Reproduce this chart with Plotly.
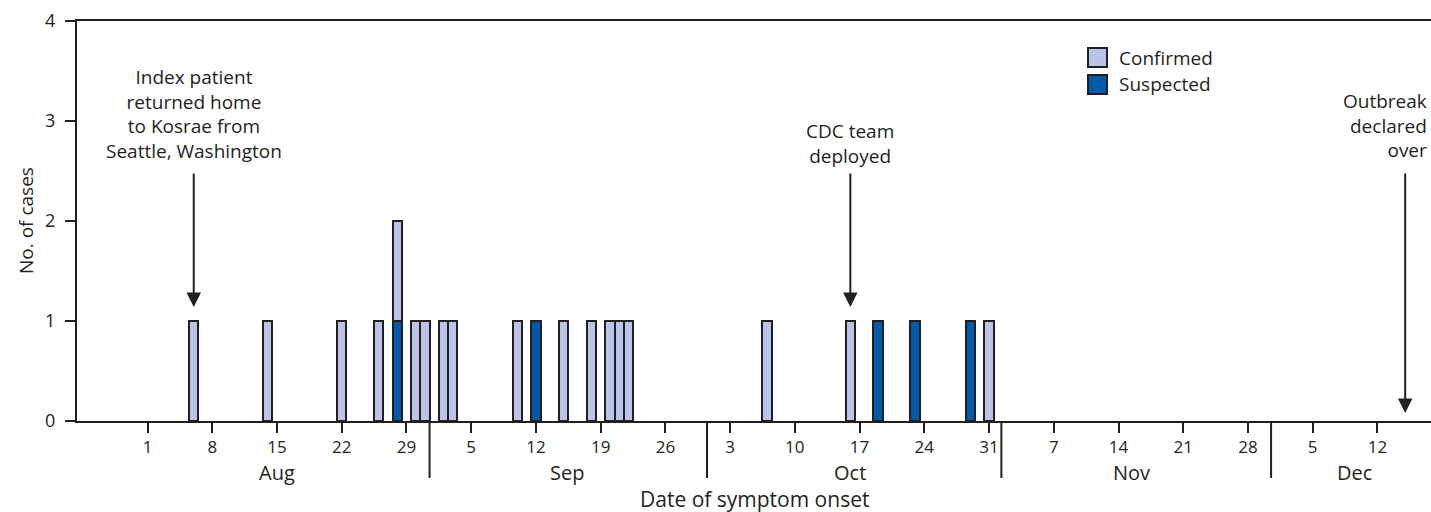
import plotly.graph_objects as go

# ---- data ----
confirmed_dates = ["2017-08-06", "2017-08-14", "2017-08-22", "2017-08-26", "2017-08-28",
                   "2017-08-30", "2017-08-31", "2017-09-02", "2017-09-03", "2017-09-10",
                   "2017-09-15", "2017-09-18", "2017-09-20", "2017-09-21", "2017-09-22",
                   "2017-10-07", "2017-10-16", "2017-10-31"]
confirmed_counts = [1, 1, 1, 1, 1, 1, 1, 1, 1, 1, 1, 1, 1, 1, 1, 1, 1, 1]
suspected_dates = ["2017-08-28", "2017-09-12", "2017-10-19", "2017-10-23", "2017-10-29"]
suspected_counts = [1, 1, 1, 1, 1]

tick_dates = ["2017-08-01", "2017-08-08", "2017-08-15", "2017-08-22", "2017-08-29",
              "2017-09-05", "2017-09-12", "2017-09-19", "2017-09-26", "2017-10-03",
              "2017-10-10", "2017-10-17", "2017-10-24", "2017-10-31", "2017-11-07",
              "2017-11-14", "2017-11-21", "2017-11-28", "2017-12-05", "2017-12-12"]
tick_labels = ["1", "8", "15", "22", "29", "5", "12", "19", "26", "3", "10", "17", "24",
               "31", "7", "14", "21", "28", "5", "12"]
month_labels = ["Aug", "Sep", "Oct", "Nov", "Dec"]
month_label_pos = ["2017-08-15", "2017-09-15 08:00", "2017-10-16", "2017-11-15 10:00", "2017-12-09 12:00"]
month_separators = ["2017-08-31 12:00", "2017-09-30 12:00", "2017-11-01 08:00", "2017-11-30 12:00"]

events = ["Index patient<br>returned home<br>to Kosrae from<br>Seattle, Washington",
          "CDC team<br>deployed",
          "Outbreak<br>declared<br>over"]
event_dates = ["2017-08-06", "2017-10-16", "2017-12-15"]

LIGHT = "#BAC5E6"
DARK = "#005AAA"
INK = "#231F20"
FONT = "Open Sans"
DAY_MS = 86400000

fig = go.Figure()
fig.add_trace(go.Bar(x=suspected_dates, y=suspected_counts, name="Suspected",
                     width=DAY_MS, marker=dict(color=DARK, line=dict(color=INK, width=2)),
                     showlegend=False, hoverinfo="skip"))
fig.add_trace(go.Bar(x=confirmed_dates, y=confirmed_counts, name="Confirmed",
                     width=DAY_MS, marker=dict(color=LIGHT, line=dict(color=INK, width=2)),
                     showlegend=False, hoverinfo="skip"))

W, H = 1431, 512
ML, MR, MT, MB = 77, 0, 21, 91
PW, PH = W - ML - MR, H - MT - MB


def px(x):
    return (x - ML) / PW


def py(y):
    return (H - MB - y) / PH


annotations = []
shapes = []

# event annotations (text)
annotations.append(dict(x=event_dates[0], y=3.075, xref="x", yref="y", text=events[0],
                        showarrow=False, xanchor="center", yanchor="middle",
                        font=dict(size=19, color=INK, family=FONT)))
annotations.append(dict(x=event_dates[1], y=2.78, xref="x", yref="y", text=events[1],
                        showarrow=False, xanchor="center", yanchor="middle",
                        font=dict(size=19, color=INK, family=FONT)))
annotations.append(dict(x=1, y=2.955, xref="paper", yref="y", text=events[2], xshift=-2,
                        showarrow=False, xanchor="right", yanchor="middle", align="right",
                        font=dict(size=19, color=INK, family=FONT)))
# arrows
for d, tip in zip(event_dates, [1.14, 1.14, 0.08]):
    annotations.append(dict(x=d, y=tip, ax=d, ay=2.49, xref="x", yref="y", axref="x", ayref="y",
                            text="", showarrow=True, arrowhead=2, arrowsize=1.45,
                            arrowwidth=2, arrowcolor=INK))

# month labels
for lab, pos in zip(month_labels, month_label_pos):
    annotations.append(dict(x=pos, y=py(472), xref="x", yref="paper", text=lab,
                            showarrow=False, xanchor="center", yanchor="middle",
                            font=dict(size=20, color=INK, family=FONT)))
for s in month_separators:
    shapes.append(dict(type="line", xref="x", yref="paper", x0=s, x1=s, y0=0, y1=py(478),
                       line=dict(color=INK, width=2)))

# axis titles
annotations.append(dict(x=0.5, y=py(499), xref="paper", yref="paper",
                        text="Date of symptom onset", showarrow=False,
                        xanchor="center", yanchor="middle",
                        font=dict(size=21, color=INK, family=FONT)))
annotations.append(dict(x=0, y=0.5, xref="paper", yref="paper", xshift=-51,
                        text="No. of cases", showarrow=False, textangle=-90,
                        xanchor="center", yanchor="middle",
                        font=dict(size=19, color=INK, family=FONT)))

# legend (drawn)
legend_items = [("Confirmed", LIGHT, 48, 67), ("Suspected", DARK, 75, 94)]
for name, col, y0, y1 in legend_items:
    shapes.append(dict(type="rect", xref="paper", yref="paper", x0=px(1088), x1=px(1107),
                       y0=py(y1), y1=py(y0), fillcolor=col, line=dict(color=INK, width=2)))
    annotations.append(dict(x=px(1117), y=py((y0 + y1) / 2), xref="paper", yref="paper",
                            text=name, showarrow=False, xanchor="left", yanchor="middle",
                            font=dict(size=19, color=INK, family=FONT)))

fig.update_layout(
    width=W, height=H,
    margin=dict(l=ML, r=MR, t=MT, b=MB, pad=0),
    barmode="stack", bargap=0,
    plot_bgcolor="white", paper_bgcolor="white",
    font=dict(family=FONT, color=INK, size=18),
    annotations=annotations, shapes=shapes,
    showlegend=False, hovermode=False,
)
fig.update_xaxes(type="date", range=["2017-07-24 09:00", "2017-12-17 19:00"],
                 tickmode="array", tickvals=tick_dates, ticktext=tick_labels,
                 ticks="outside", ticklen=10, tickwidth=2, tickcolor=INK,
                 showline=True, linecolor=INK, linewidth=2, mirror=True,
                 showgrid=False, zeroline=False,
                 tickfont=dict(size=17, color=INK, family=FONT))
fig.update_yaxes(range=[0, 4], tickmode="array", tickvals=[0, 1, 2, 3, 4],
                 ticks="outside", ticklen=10, tickwidth=2, tickcolor=INK,
                 showline=True, linecolor=INK, linewidth=2,
                 showgrid=False, zeroline=False, ticklabelstandoff=6,
                 tickfont=dict(size=18, color=INK, family=FONT))

fig.write_html("out.html", config={"displayModeBar": False},
               post_script="document.body.style.margin='0';document.body.style.overflow='hidden';")
